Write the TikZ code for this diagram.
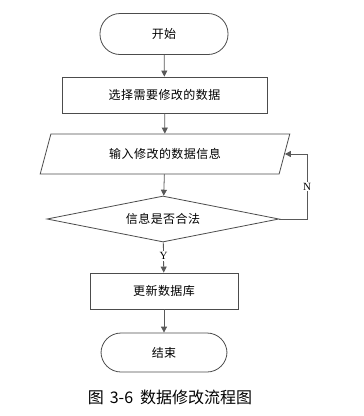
\documentclass[tikz,border=0pt]{standalone}
\usepackage{fontspec}
\newfontfamily\cjk{Noto Sans CJK SC}
\newfontfamily\cjkwide[LetterSpace=4]{Noto Sans CJK SC}
\newfontfamily\latinserif{Liberation Serif}
\usetikzlibrary{shapes.geometric,arrows.meta}
\tikzset{
  boxline/.style={draw=black!70,line width=0.8pt},
  boxfont/.style={font=\cjkwide\fontsize{12}{14}\selectfont},
  term/.style={boxline,boxfont,rectangle,rounded corners=20pt,minimum width=128pt,minimum height=41pt},
  procbox/.style={boxline,boxfont,rectangle,minimum height=36pt},
  iobox/.style={boxline,boxfont,trapezium,trapezium left angle=65,trapezium right angle=115,trapezium stretches=true,minimum width=250pt,minimum height=40pt,inner sep=0pt},
  decbox/.style={boxline,boxfont,diamond,aspect=5,minimum width=232pt,minimum height=46pt,inner sep=0pt},
  flow/.style={draw=black!65,line width=0.8pt,-{Triangle[length=6pt,width=6pt]}},
  yn/.style={font=\latinserif\fontsize{11}{12}\selectfont,fill=white,inner sep=1pt}
}
\begin{document}
\begin{tikzpicture}[x=1pt,y=-1pt]
\useasboundingbox (0,0) rectangle (364,416);
\node[term] (start) at (164,34) {开始};
\node[procbox,minimum width=205pt] (sel) at (164.5,95) {选择需要修改的数据};
\node[iobox] (in) at (165,154) {输入修改的数据信息};
\node[decbox] (chk) at (163,219) {信息是否合法};
\node[procbox,minimum width=148pt] (upd) at (164,291) {更新数据库};
\node[term,minimum width=126pt,minimum height=39pt] (end) at (164,352.5) {结束};
\node[font=\cjk\fontsize{16}{18}\selectfont] (cap) at (170,397) {图\hspace{6pt}3-6\hspace{7pt}数据修改流程图};
\coordinate (turn) at (307,219);
\draw[flow] (start) -- (sel);
\draw[flow] (sel) -- (in);
\draw[flow] (in) -- (chk);
\draw[flow] (chk) -- node[yn,pos=0.45] (ylab) {Y} (upd);
\draw[flow] (upd) -- (end);
\draw[flow] (chk.east) -- (turn) -- node[yn] (nlab) {N} (turn |- in.east) -- (in.east);
\end{tikzpicture}
\end{document}
